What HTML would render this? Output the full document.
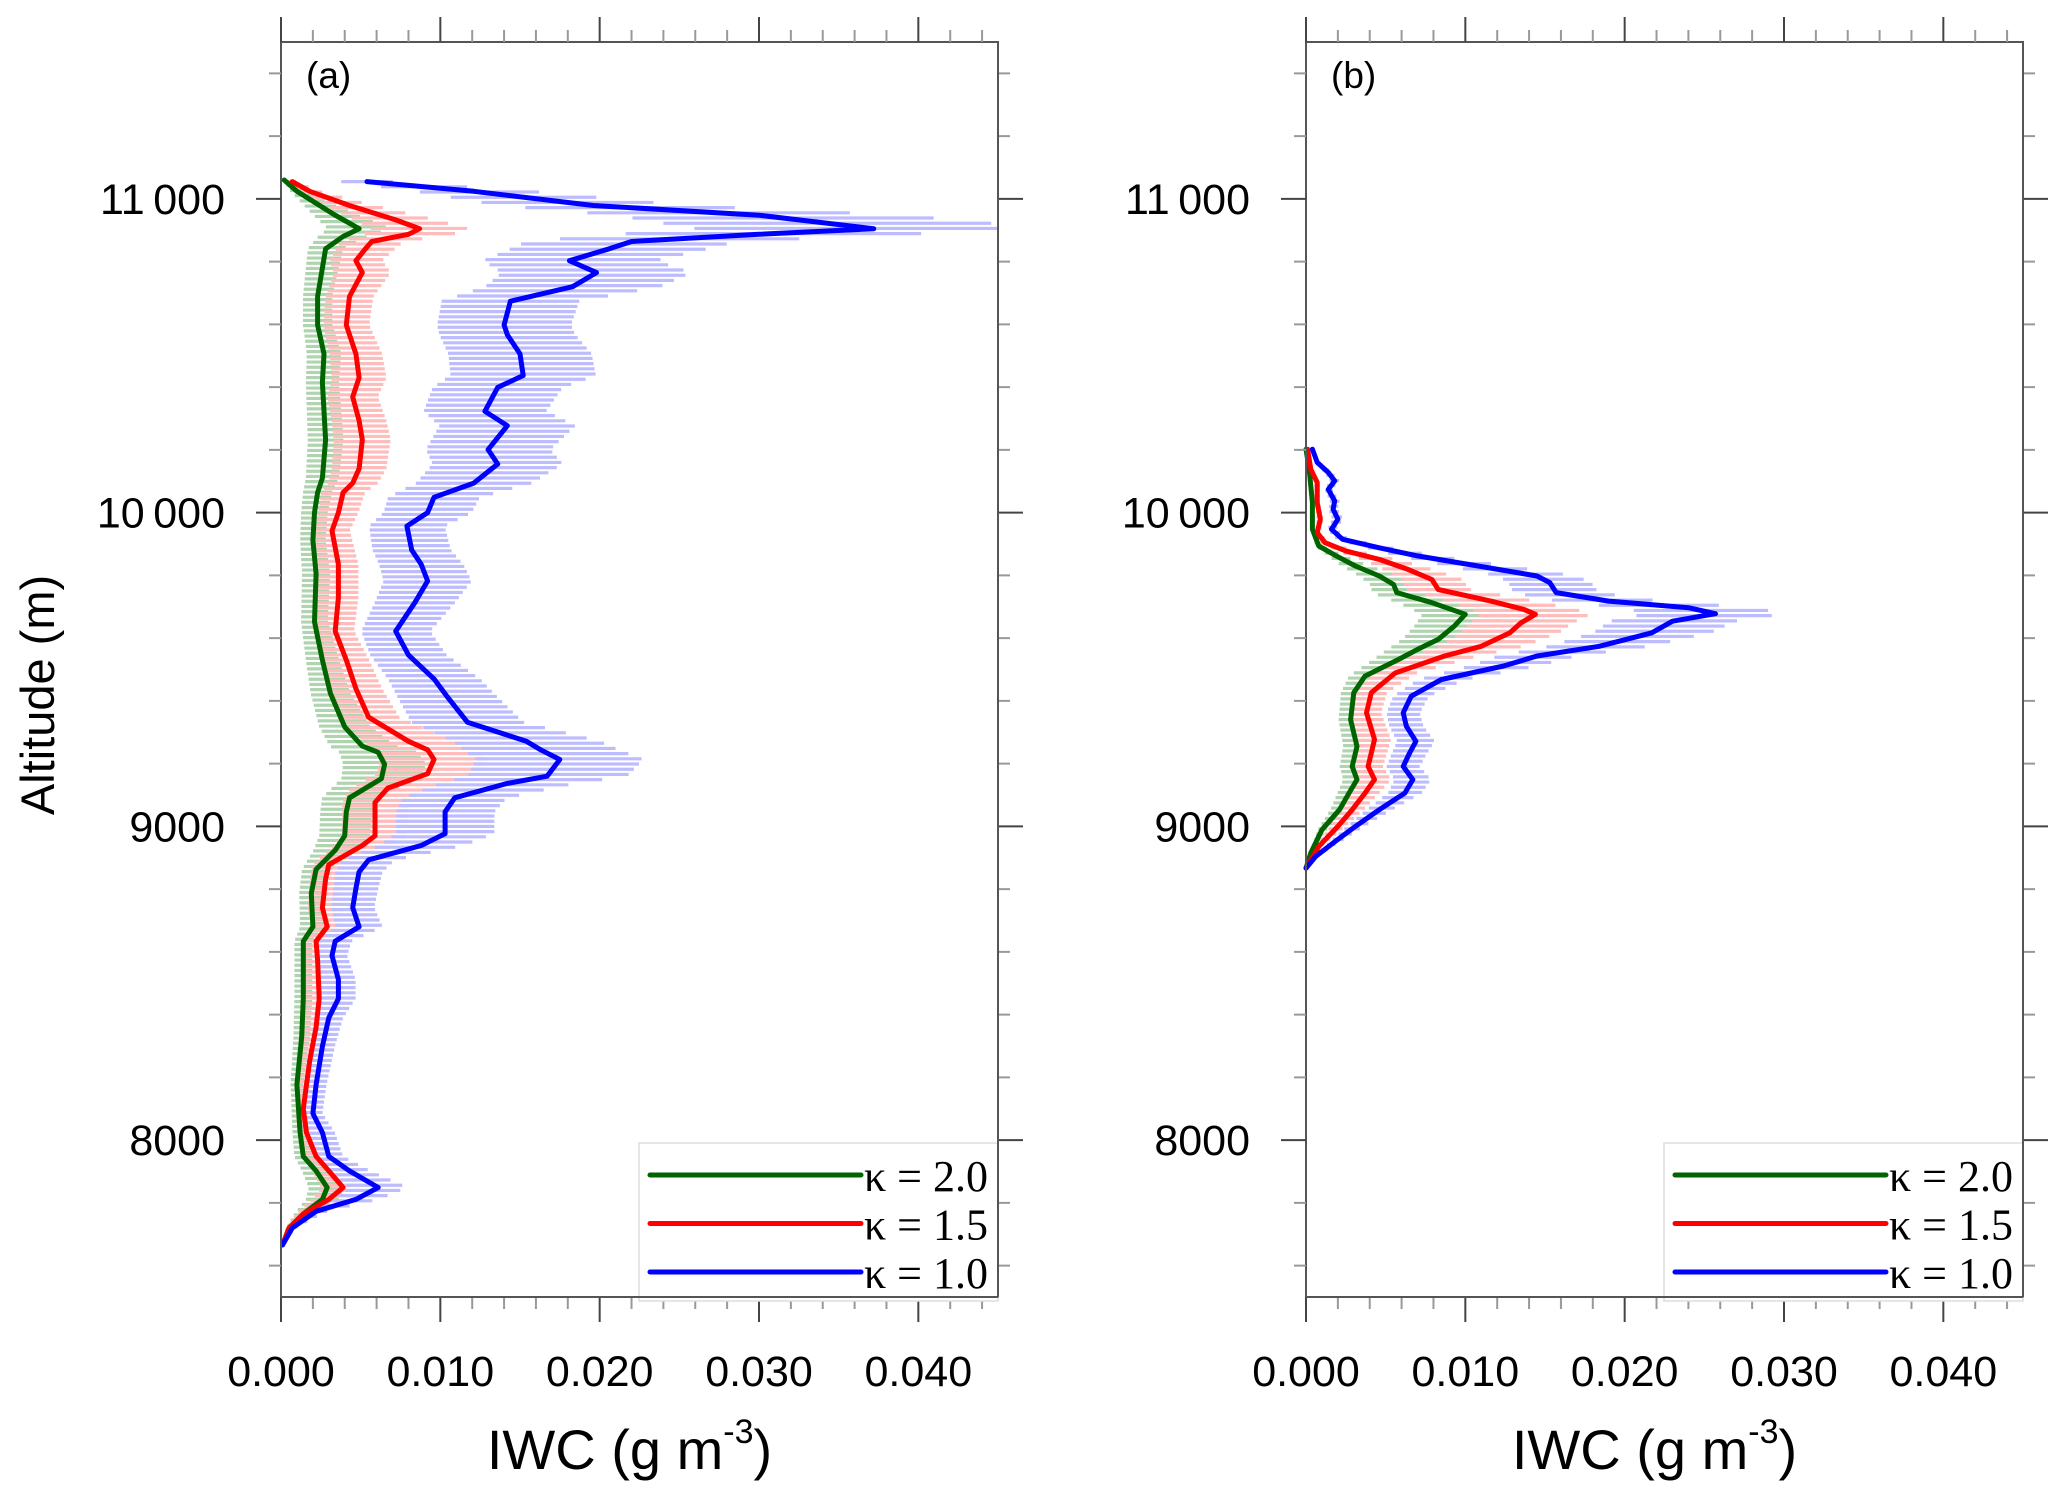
<!DOCTYPE html>
<html><head><meta charset="utf-8">
<style>
html,body{margin:0;padding:0;background:#fff;}
svg{display:block;}
text{font-family:"Liberation Sans",sans-serif;}
.leg{font-family:"Liberation Serif",serif;}
</style></head>
<body>
<svg id="chart" width="2067" height="1500" viewBox="0 0 2067 1500" xmlns="http://www.w3.org/2000/svg">
<text x="0" y="0" font-size="47" text-anchor="middle" transform="translate(54,695) rotate(-90)">Altitude (m)</text>
</svg>
<script>
// ---- data: panel (a) ----
const aGreenAlt=[11060,11024,10948,10905,10880,10841,10780,10689,10598,10506,10415,10323,10232,10110,10064,10000,9912,9805,9652,9530,9424,9317,9256,9236,9198,9152,9091,9046,8970,8924,8863,8787,8680,8634,8558,8451,8329,8177,8024,7948,7902,7849,7811,7765,7720,7666];
const aGreenVal=[0.0002,0.0010,0.0034,0.0049,0.0039,0.0028,0.0026,0.0023,0.0023,0.0027,0.0026,0.0027,0.0028,0.0026,0.0023,0.0021,0.0020,0.0022,0.0021,0.0026,0.0031,0.0040,0.0051,0.0061,0.0065,0.0063,0.0043,0.0041,0.0040,0.0034,0.0022,0.0019,0.0020,0.0014,0.0014,0.0014,0.0013,0.0010,0.0012,0.0014,0.0022,0.0029,0.0026,0.0014,0.0005,0.0001];
const aRedAlt=[11055,11024,10979,10933,10905,10887,10864,10841,10803,10765,10689,10598,10506,10430,10369,10293,10232,10140,10094,10064,10000,9942,9835,9729,9622,9530,9439,9348,9271,9244,9213,9168,9122,9076,8970,8939,8878,8832,8741,8680,8634,8573,8451,8360,8253,8100,8024,7948,7902,7849,7811,7765,7720,7666];
const aRedVal=[0.0007,0.0018,0.0043,0.0072,0.0087,0.0080,0.0057,0.0053,0.0047,0.0051,0.0043,0.0041,0.0047,0.0049,0.0045,0.0049,0.0051,0.0049,0.0045,0.0039,0.0036,0.0032,0.0036,0.0036,0.0034,0.0041,0.0047,0.0055,0.0080,0.0092,0.0096,0.0092,0.0067,0.0059,0.0059,0.0051,0.0030,0.0028,0.0026,0.0029,0.0022,0.0023,0.0024,0.0022,0.0018,0.0014,0.0016,0.0022,0.0030,0.0039,0.0030,0.0014,0.0005,0.0001];
const aBlueAlt=[11055,11024,10979,10948,10905,10887,10864,10841,10803,10765,10720,10674,10598,10567,10506,10437,10399,10323,10277,10201,10155,10094,10049,10000,9957,9881,9835,9782,9713,9622,9546,9470,9409,9332,9271,9244,9213,9160,9137,9091,9046,8977,8939,8893,8855,8802,8741,8680,8634,8588,8512,8451,8390,8299,8177,8085,8024,7948,7902,7849,7811,7773,7720,7666];
const aBlueVal=[0.0054,0.0121,0.0196,0.0300,0.0372,0.0300,0.0220,0.0206,0.0181,0.0198,0.0183,0.0144,0.0140,0.0142,0.0150,0.0152,0.0136,0.0128,0.0142,0.0130,0.0136,0.0121,0.0096,0.0092,0.0079,0.0082,0.0088,0.0092,0.0084,0.0072,0.0080,0.0096,0.0105,0.0117,0.0154,0.0163,0.0175,0.0167,0.0142,0.0109,0.0103,0.0103,0.0088,0.0055,0.0049,0.0047,0.0045,0.0049,0.0034,0.0032,0.0036,0.0036,0.0030,0.0026,0.0022,0.0020,0.0026,0.0030,0.0043,0.0061,0.0047,0.0022,0.0007,0.0001];
// ---- data: panel (b) ----
const bGreenAlt=[10202,10138,10032,9947,9894,9862,9830,9798,9771,9745,9713,9676,9638,9596,9564,9532,9479,9426,9340,9255,9191,9149,9106,9053,8989,8915,8867];
const bGreenVal=[0.0000,0.0002,0.0004,0.0004,0.0008,0.0019,0.0031,0.0046,0.0055,0.0057,0.0079,0.0100,0.0093,0.0083,0.0070,0.0058,0.0037,0.0030,0.0028,0.0032,0.0029,0.0032,0.0027,0.0021,0.0010,0.0003,0.0000];
const bRedAlt=[10202,10138,10096,10032,9979,9936,9904,9878,9851,9819,9787,9755,9718,9691,9676,9649,9617,9574,9543,9489,9426,9362,9277,9191,9149,9106,9053,9000,8936,8867];
const bRedVal=[0.0001,0.0003,0.0007,0.0007,0.0009,0.0007,0.0012,0.0025,0.0046,0.0064,0.0079,0.0083,0.0116,0.0137,0.0144,0.0135,0.0128,0.0110,0.0087,0.0056,0.0041,0.0038,0.0043,0.0039,0.0043,0.0037,0.0029,0.0020,0.0008,0.0000];
const bBlueAlt=[10202,10160,10128,10101,10074,10037,10011,9979,9947,9915,9888,9862,9830,9798,9777,9745,9718,9697,9678,9654,9617,9574,9543,9511,9468,9415,9362,9319,9271,9234,9191,9149,9106,9053,9000,8947,8904,8867];
const bBlueVal=[0.0004,0.0007,0.0014,0.0018,0.0014,0.0018,0.0017,0.0020,0.0016,0.0023,0.0046,0.0070,0.0108,0.0145,0.0153,0.0157,0.0190,0.0240,0.0257,0.0230,0.0217,0.0184,0.0145,0.0124,0.0085,0.0066,0.0061,0.0063,0.0069,0.0065,0.0061,0.0067,0.0062,0.0046,0.0031,0.0017,0.0006,0.0000];
// relative error (half-width of horizontal bars / mean)
const aRelErr=[0.40,0.35,0.30];
const bRelErr=[0.27,0.24,0.17];
const xTickLabels=["0.000","0.010","0.020","0.030","0.040"];
const xTickValues=[0,0.01,0.02,0.03,0.04];
const yTickLabels=["8000","9000","10\u2009000","11\u2009000"];
const yTickValues=[8000,9000,10000,11000];
const legendLabels=["\u03ba = 2.0","\u03ba = 1.5","\u03ba = 1.0"];

const NS="http://www.w3.org/2000/svg";
const svg=document.getElementById('chart');
const Y0=42,Y1=1297,ALT0=7500,ALT1=11500,XMAX=0.045,PW=717;
const lineCols=["#006400","#ff0000","#0000ff"];
const barCols=["#3c963c","#ff5a5a","#5a5aff"];
function mk(tag,attrs,parent){const e=document.createElementNS(NS,tag);for(const k in attrs)e.setAttribute(k,attrs[k]);(parent||svg).appendChild(e);return e;}
function yScale(a){return Y1-(a-ALT0)/(ALT1-ALT0)*(Y1-Y0);}
function interp(alts,vals,a){
  for(let i=0;i<alts.length-1;i++){
    if(a<=alts[i]&&a>=alts[i+1]){const t=(alts[i]-a)/(alts[i]-alts[i+1]);return vals[i]+t*(vals[i+1]-vals[i]);}
  }return null;
}
const defs=mk('defs',{});
function panel(name,x0,series,relErr,label){
  const xs=v=>x0+v/XMAX*PW;
  const cp=mk('clipPath',{id:'clip-'+name},defs);
  mk('rect',{x:x0,y:Y0,width:PW,height:Y1-Y0},cp);
  const g=mk('g',{});
  
  
  const bars=mk('g',{opacity:'0.4','clip-path':'url(#clip-'+name+')'},g);
  
  
  series.forEach((s,si)=>{
    const top=s[0][0],bot=s[0][s[0].length-1];
    for(let py=yScale(top);py<=yScale(bot);py+=5.2){
      const a=ALT0+(Y1-py)/(Y1-Y0)*(ALT1-ALT0);
      const v=interp(s[0],s[1],a);if(v===null)continue;
      const e=v*relErr[si];
      const b=mk('line',{x1:xs(Math.max(0,v-e)),x2:xs(v+e),y1:py,y2:py,stroke:barCols[si],'stroke-width':3.2},bars);
      
      
    }
  });
  series.forEach((s,si)=>{
    const d=s[0].map((a,i)=>(i?'L':'M')+xs(s[1][i]).toFixed(1)+','+yScale(a).toFixed(1)).join('');
    const p=mk('path',{d:d,fill:'none',stroke:lineCols[si],'stroke-width':5,'stroke-linejoin':'round','stroke-linecap':'round'},g);
    
    
  });
  const fr=mk('rect',{x:x0,y:Y0,width:PW,height:Y1-Y0,fill:'none',stroke:'#555','stroke-width':2},g);
  
  
  for(let k=0;k<=22;k++){
    const v=k*0.002;const x=xs(v);const maj=k%5===0;const L=maj?25:12;const c=maj?'#444':'#999';
    const t1=mk('line',{x1:x,x2:x,y1:Y0,y2:Y0-L,stroke:c,'stroke-width':2},g);
    
    
    const t2=mk('line',{x1:x,x2:x,y1:Y1,y2:Y1+L,stroke:c,'stroke-width':2},g);
    
    
  }
  xTickValues.forEach((v,i)=>{
    const t=mk('text',{x:xs(v),y:1386,'font-size':43,'text-anchor':'middle'},g);
    t.textContent=xTickLabels[i];
    
    
  });
  for(let a=7600;a<=11400;a+=200){
    const y=yScale(a);const maj=a%1000===0;const L=maj?25:12;const c=maj?'#444':'#999';
    const t1=mk('line',{x1:x0,x2:x0-L,y1:y,y2:y,stroke:c,'stroke-width':2},g);
    
    
    const t2=mk('line',{x1:x0+PW,x2:x0+PW+L,y1:y,y2:y,stroke:c,'stroke-width':2},g);
    
    
  }
  yTickValues.forEach((v,i)=>{
    const t=mk('text',{x:x0-56,y:yScale(v)+15,'font-size':43,'text-anchor':'end'},g);
    t.textContent=yTickLabels[i];
    
    
  });
  const pl=mk('text',{x:x0+25,y:88,'font-size':37},g);
  pl.textContent=label;
  
  
  const xt=mk('text',{x:x0+PW/2-10,y:1469,'font-size':56,'text-anchor':'middle'},g);
  xt.innerHTML='IWC (g m<tspan font-size="34" dy="-26">-3</tspan><tspan dy="26">)</tspan>';
  
  
  const lg=mk('g',{},g);
  
  
  mk('rect',{x:x0+358,y:1143,width:PW-358,height:158,fill:'#fff',stroke:'#ddd','stroke-width':1.5},lg);
  legendLabels.forEach((lab,i)=>{
    const y=1175+i*48.5;
    const ln=mk('line',{x1:x0+369,x2:x0+580,y1:y,y2:y,stroke:lineCols[i],'stroke-width':5,'stroke-linecap':'round'},lg);
    
    
    const t=mk('text',{x:x0+583,y:y+16,'font-size':44,'class':'leg'},lg);
    t.textContent=lab;
    
    
  });
  mk('line',{x1:x0+PW,x2:x0+PW,y1:Y0,y2:Y1,stroke:'#555','stroke-width':2},g);
  mk('line',{x1:x0,x2:x0+PW,y1:Y1,y2:Y1,stroke:'#555','stroke-width':2},g);
}
panel('a',281,[[aGreenAlt,aGreenVal],[aRedAlt,aRedVal],[aBlueAlt,aBlueVal]],aRelErr,'(a)');
panel('b',1306,[[bGreenAlt,bGreenVal],[bRedAlt,bRedVal],[bBlueAlt,bBlueVal]],bRelErr,'(b)');
</script>
</body></html>
